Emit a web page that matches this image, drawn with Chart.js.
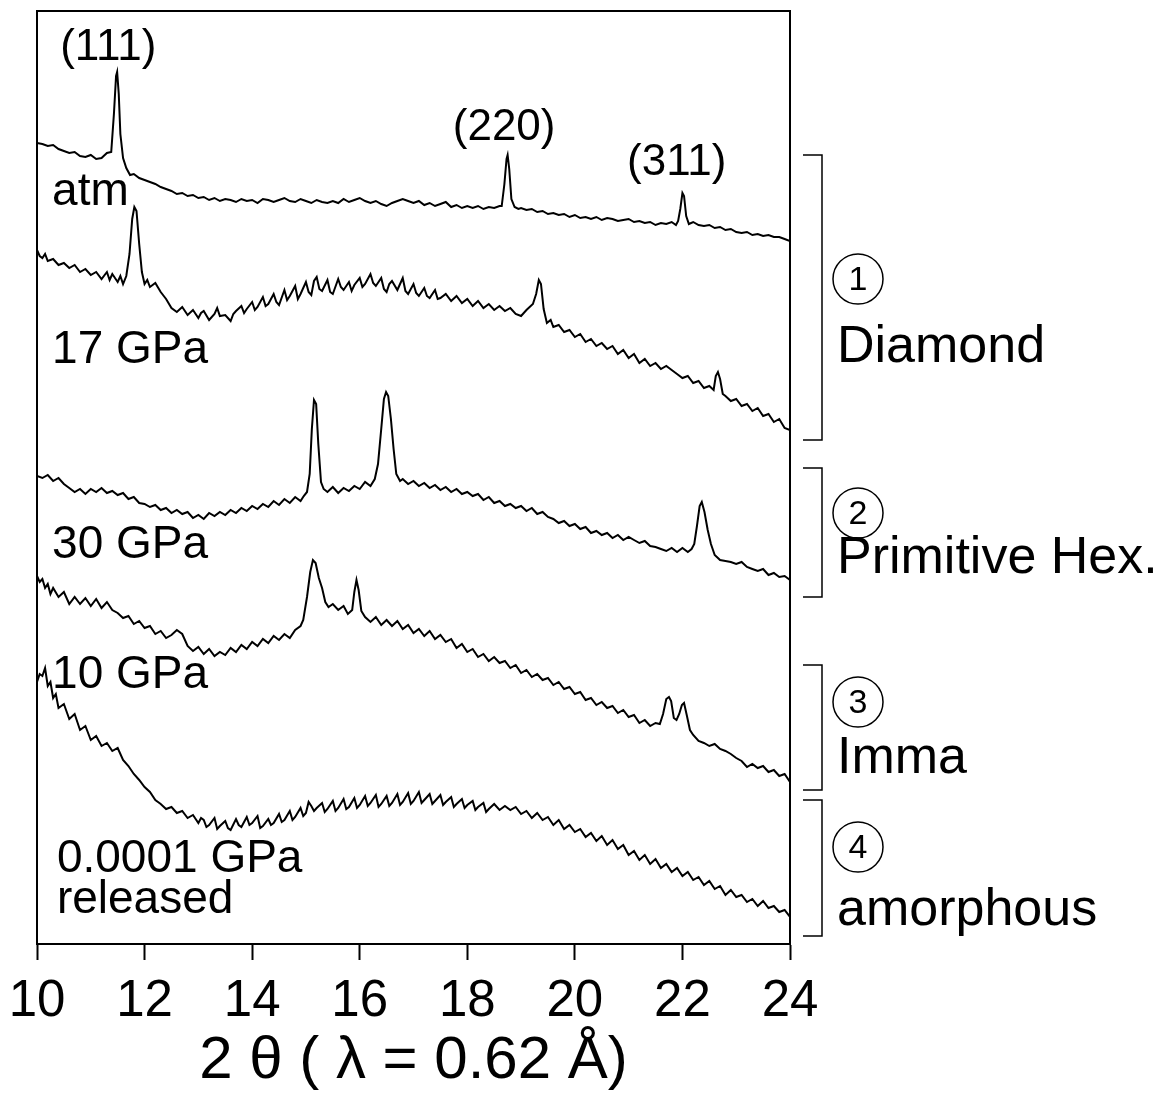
<!DOCTYPE html>
<html>
<head>
<meta charset="utf-8">
<script src="https://cdn.jsdelivr.net/npm/chart.js@4.4.1/dist/chart.umd.min.js"></script>
<style>
  body { margin: 0; background: #fff; }
</style>
</head>
<body>
<canvas id="chart" width="1168" height="1100"></canvas>
<script>
// 2-theta (deg) vs. intensity (arb. units, stacked offsets)
const atm = [
  [10.0,801],[10.1,800],[10.2,798],[10.3,799],[10.4,795],[10.5,793],[10.6,791],[10.7,792],[10.8,788],[10.9,787],
  [11.0,789],[11.1,785],[11.2,786],[11.3,791],[11.38,792],[11.43,830],[11.47,868],[11.49,872],[11.52,850],[11.55,810],
  [11.60,786],[11.66,776],[11.73,769],[11.8,770],[11.9,766],[12.0,764],[12.1,762],[12.2,760],[12.3,757],[12.4,755],
  [12.5,753],[12.6,750],[12.7,751],[12.8,748],[12.9,749],[13.0,746],[13.1,747],[13.2,744],[13.3,746],[13.4,743],
  [13.5,745],[13.6,744],[13.7,742],[13.8,745],[13.9,743],[14.0,744],[14.1,741],[14.2,745],[14.3,744],[14.4,742],
  [14.5,744],[14.6,746],[14.7,743],[14.8,742],[14.9,745],[15.0,743],[15.1,741],[15.2,744],[15.3,742],[15.4,741],
  [15.5,743],[15.6,741],[15.7,745],[15.8,742],[15.9,744],[16.0,746],[16.1,743],[16.2,741],[16.3,743],[16.4,740],
  [16.5,738],[16.6,741],[16.7,743],[16.8,745],[16.9,743],[17.0,741],[17.1,743],[17.2,739],[17.3,741],[17.4,738],
  [17.5,740],[17.6,742],[17.7,737],[17.8,739],[17.9,736],[18.0,738],[18.1,736],[18.2,738],[18.3,735],[18.4,737],
  [18.5,736],[18.6,738],[18.64,738],[18.69,760],[18.73,785],[18.75,789],[18.78,775],[18.82,745],[18.88,737],[18.95,735],
  [19.0,736],[19.1,734],[19.2,735],[19.3,732],[19.4,733],[19.5,730],[19.6,731],[19.7,729],[19.8,730],[19.9,727],
  [20.0,729],[20.1,726],[20.2,727],[20.3,725],[20.4,727],[20.5,724],[20.6,726],[20.7,725],[20.8,723],[20.9,724],
  [21.0,725],[21.1,722],[21.2,723],[21.3,721],[21.4,722],[21.5,719],[21.6,721],[21.7,720],[21.8,722],[21.88,719],
  [21.92,723],[21.96,735],[22.00,751],[22.03,748],[22.07,728],[22.12,720],[22.2,722],[22.3,719],[22.4,718],[22.5,719],
  [22.6,716],[22.7,717],[22.8,714],[22.9,715],[23.0,712],[23.1,711],[23.2,712],[23.3,709],[23.4,710],[23.5,708],
  [23.6,709],[23.7,707],[23.8,707],[23.9,705],[24.0,703]
];

const gpa17 = [
  [10.0,694],[10.05,688],[10.1,686],[10.15,690],[10.2,683],[10.3,685],[10.4,679],[10.5,681],[10.6,676],[10.7,679],
  [10.8,672],[10.9,675],[11.0,669],[11.1,672],[11.2,665],[11.3,672],[11.35,664],[11.4,670],[11.5,662],[11.55,668],
  [11.6,660],[11.66,668],[11.72,690],[11.77,725],[11.81,737],[11.85,733],[11.90,700],[11.95,672],[12.0,660],[12.05,664],
  [12.1,657],[12.2,661],[12.3,652],[12.4,645],[12.5,636],[12.6,632],[12.7,637],[12.8,629],[12.9,634],[13.0,626],
  [13.05,631],[13.1,633],[13.2,624],[13.3,630],[13.35,636],[13.4,628],[13.5,629],[13.6,623],[13.65,630],[13.7,633],
  [13.8,638],[13.85,631],[13.9,635],[14.0,642],[14.05,634],[14.1,637],[14.2,647],[14.25,638],[14.3,640],[14.4,650],
  [14.45,642],[14.5,639],[14.6,654],[14.65,644],[14.7,648],[14.8,658],[14.85,645],[14.9,650],[15.0,662],[15.05,652],
  [15.1,649],[15.15,663],[15.2,667],[15.25,655],[15.3,653],[15.4,664],[15.45,652],[15.5,650],[15.6,665],[15.65,657],
  [15.7,654],[15.8,662],[15.85,653],[15.9,659],[16.0,666],[16.05,657],[16.1,660],[16.2,670],[16.25,661],[16.3,658],
  [16.4,666],[16.45,655],[16.5,652],[16.55,660],[16.6,663],[16.7,654],[16.75,660],[16.8,666],[16.85,653],[16.9,650],
  [17.0,660],[17.05,651],[17.1,648],[17.2,656],[17.25,648],[17.3,646],[17.4,654],[17.45,645],[17.5,646],[17.6,650],
  [17.7,643],[17.8,648],[17.9,641],[18.0,645],[18.1,638],[18.2,643],[18.3,636],[18.4,640],[18.5,634],[18.6,638],
  [18.7,633],[18.8,636],[18.9,630],[19.0,628],[19.1,634],[19.22,640],[19.28,650],[19.33,664],[19.37,660],[19.42,635],
  [19.48,621],[19.55,624],[19.6,617],[19.7,619],[19.8,612],[19.9,614],[20.0,607],[20.1,610],[20.2,602],[20.3,605],
  [20.4,598],[20.5,601],[20.6,595],[20.7,598],[20.8,590],[20.9,594],[21.0,586],[21.1,590],[21.2,581],[21.3,585],
  [21.4,578],[21.5,581],[21.6,575],[21.7,578],[21.8,574],[21.9,570],[22.0,566],[22.1,568],[22.2,561],[22.3,563],
  [22.4,556],[22.5,558],[22.58,554],[22.62,568],[22.66,572],[22.70,565],[22.75,550],[22.8,548],[22.9,543],[23.0,545],
  [23.1,538],[23.2,540],[23.3,533],[23.4,536],[23.5,528],[23.6,530],[23.7,522],[23.8,525],[23.9,516],[24.0,514]
];

const gpa30 = [
  [10.0,468],[10.1,466],[10.2,469],[10.3,463],[10.4,466],[10.5,460],[10.6,456],[10.7,452],[10.8,455],[10.9,450],
  [11.0,455],[11.1,452],[11.2,456],[11.3,451],[11.4,453],[11.5,449],[11.6,451],[11.7,445],[11.8,447],[11.9,441],
  [12.0,440],[12.1,437],[12.2,439],[12.3,434],[12.4,436],[12.5,431],[12.6,434],[12.7,430],[12.8,432],[12.9,426],
  [13.0,429],[13.1,425],[13.2,431],[13.3,428],[13.4,432],[13.5,429],[13.6,434],[13.7,431],[13.8,436],[13.9,433],
  [14.0,438],[14.1,435],[14.2,440],[14.3,437],[14.4,443],[14.5,439],[14.6,445],[14.7,441],[14.8,447],[14.9,443],
  [14.96,448],[15.02,452],[15.07,470],[15.11,515],[15.15,544],[15.19,540],[15.23,500],[15.28,462],[15.33,455],[15.4,452],
  [15.5,457],[15.6,451],[15.7,456],[15.8,453],[15.9,458],[16.0,455],[16.1,462],[16.2,458],[16.28,465],[16.34,480],
  [16.40,515],[16.45,545],[16.49,552],[16.53,548],[16.58,525],[16.63,495],[16.68,470],[16.75,463],[16.8,465],[16.9,460],
  [17.0,463],[17.1,458],[17.2,461],[17.3,456],[17.4,459],[17.5,454],[17.6,457],[17.7,452],[17.8,455],[17.9,450],
  [18.0,452],[18.1,448],[18.2,450],[18.3,444],[18.4,447],[18.5,441],[18.6,443],[18.7,438],[18.8,440],[18.9,436],
  [19.0,438],[19.1,433],[19.2,436],[19.3,430],[19.4,432],[19.5,427],[19.6,425],[19.7,421],[19.8,423],[19.9,418],
  [20.0,420],[20.1,415],[20.2,417],[20.3,411],[20.4,413],[20.5,409],[20.6,411],[20.7,406],[20.8,409],[20.9,404],
  [21.0,407],[21.1,404],[21.2,401],[21.3,403],[21.4,398],[21.5,397],[21.6,395],[21.7,393],[21.8,396],[21.9,392],
  [22.0,396],[22.1,392],[22.17,395],[22.22,400],[22.27,418],[22.32,438],[22.36,442],[22.41,432],[22.47,414],[22.53,400],
  [22.6,389],[22.7,384],[22.8,383],[22.9,382],[23.0,380],[23.1,382],[23.2,377],[23.3,375],[23.4,373],[23.5,375],
  [23.6,369],[23.7,371],[23.8,367],[23.9,368],[24.0,364]
];

const gpa10 = [
  [10.0,368],[10.05,362],[10.1,365],[10.15,356],[10.2,360],[10.25,350],[10.3,356],[10.4,347],[10.5,352],[10.6,340],
  [10.7,347],[10.8,340],[10.9,346],[11.0,338],[11.1,345],[11.2,336],[11.3,342],[11.4,334],[11.5,331],[11.6,326],
  [11.7,328],[11.8,320],[11.9,323],[12.0,316],[12.1,318],[12.2,310],[12.3,313],[12.4,306],[12.5,309],[12.6,314],
  [12.7,310],[12.8,298],[12.9,293],[13.0,297],[13.1,290],[13.2,295],[13.3,288],[13.4,292],[13.5,289],[13.6,296],
  [13.7,292],[13.8,299],[13.9,295],[14.0,302],[14.1,298],[14.2,305],[14.3,301],[14.4,308],[14.5,304],[14.6,310],
  [14.7,306],[14.8,314],[14.9,318],[14.95,324],[15.02,347],[15.08,372],[15.13,384],[15.18,381],[15.24,366],[15.30,356],
  [15.36,342],[15.42,337],[15.5,340],[15.6,334],[15.7,338],[15.78,330],[15.86,334],[15.90,352],[15.94,364],[15.98,354],
  [16.03,333],[16.1,327],[16.2,322],[16.3,327],[16.4,319],[16.5,324],[16.6,318],[16.7,323],[16.8,315],[16.9,319],
  [17.0,311],[17.1,315],[17.2,308],[17.3,313],[17.4,305],[17.5,309],[17.6,302],[17.7,305],[17.8,296],[17.9,300],
  [18.0,292],[18.1,295],[18.2,287],[18.3,290],[18.4,283],[18.5,287],[18.6,281],[18.7,283],[18.8,276],[18.9,279],
  [19.0,271],[19.1,274],[19.2,267],[19.3,270],[19.4,264],[19.5,266],[19.6,259],[19.7,262],[19.8,255],[19.9,257],
  [20.0,250],[20.1,252],[20.2,244],[20.3,246],[20.4,239],[20.5,242],[20.6,236],[20.7,238],[20.8,231],[20.9,234],
  [21.0,227],[21.1,229],[21.2,221],[21.3,224],[21.4,218],[21.5,221],[21.58,220],[21.64,230],[21.70,245],[21.75,247],
  [21.79,243],[21.84,226],[21.89,224],[21.94,230],[21.99,239],[22.03,241],[22.08,229],[22.14,214],[22.2,209],[22.3,203],
  [22.4,201],[22.5,198],[22.6,200],[22.7,195],[22.8,193],[22.9,190],[23.0,186],[23.1,183],[23.2,177],[23.3,180],
  [23.4,176],[23.5,178],[23.6,172],[23.7,174],[23.8,168],[23.9,170],[24.0,162]
];

const released = [
  [10.0,262],[10.05,270],[10.1,268],[10.15,276],[10.2,258],[10.25,262],[10.3,246],[10.35,250],[10.4,236],[10.5,240],
  [10.6,225],[10.7,230],[10.8,214],[10.9,218],[11.0,204],[11.1,208],[11.2,198],[11.3,201],[11.4,193],[11.5,196],
  [11.6,184],[11.7,178],[11.8,170],[11.9,164],[12.0,157],[12.1,152],[12.2,144],[12.3,140],[12.4,135],[12.5,137],
  [12.6,131],[12.7,133],[12.8,126],[12.9,129],[13.0,121],[13.05,126],[13.1,124],[13.15,117],[13.2,119],[13.3,126],
  [13.35,115],[13.4,118],[13.5,123],[13.55,116],[13.6,114],[13.7,125],[13.75,119],[13.8,117],[13.9,127],[13.95,119],
  [14.0,121],[14.1,128],[14.15,116],[14.2,118],[14.3,125],[14.35,119],[14.4,121],[14.5,130],[14.55,122],[14.6,124],
  [14.7,133],[14.75,124],[14.8,127],[14.9,136],[14.95,128],[15.0,131],[15.05,142],[15.1,138],[15.15,133],[15.2,136],
  [15.3,141],[15.35,132],[15.4,135],[15.5,143],[15.55,133],[15.6,136],[15.7,145],[15.75,135],[15.8,137],[15.9,146],
  [15.95,136],[16.0,139],[16.1,148],[16.15,138],[16.2,141],[16.3,149],[16.35,137],[16.4,140],[16.5,148],[16.55,138],
  [16.6,141],[16.7,150],[16.75,139],[16.8,142],[16.9,151],[16.95,140],[17.0,143],[17.1,152],[17.15,141],[17.2,144],
  [17.3,150],[17.35,140],[17.4,143],[17.5,149],[17.55,139],[17.6,142],[17.7,147],[17.75,137],[17.8,140],[17.9,145],
  [17.95,136],[18.0,139],[18.1,143],[18.15,134],[18.2,137],[18.3,141],[18.35,132],[18.4,135],[18.5,140],[18.6,134],
  [18.7,138],[18.8,134],[18.9,137],[19.0,130],[19.1,133],[19.2,126],[19.3,131],[19.4,124],[19.5,127],[19.6,119],
  [19.7,124],[19.8,115],[19.9,119],[20.0,112],[20.1,115],[20.2,107],[20.3,111],[20.4,103],[20.5,108],[20.6,99],
  [20.7,104],[20.8,95],[20.9,99],[21.0,89],[21.1,93],[21.2,84],[21.3,89],[21.4,80],[21.5,85],[21.6,76],
  [21.7,80],[21.8,72],[21.9,76],[22.0,68],[22.1,72],[22.2,64],[22.3,67],[22.4,59],[22.5,63],[22.6,55],
  [22.7,58],[22.8,49],[22.9,54],[23.0,47],[23.1,49],[23.2,42],[23.3,45],[23.4,38],[23.5,43],[23.6,36],
  [23.7,38],[23.8,32],[23.9,34],[24.0,27]
];

const seriesNames = ['atm', '17 GPa', '30 GPa', '10 GPa', '0.0001 GPa released'];
const xTicks = [10, 12, 14, 16, 18, 20, 22, 24];

// text inside the plot: [text, 2theta of left edge, intensity of baseline]
const curveLabels = [
  ['atm', 10.28, 739],
  ['17 GPa', 10.28, 581],
  ['30 GPa', 10.28, 386],
  ['10 GPa', 10.28, 256],
  ['0.0001 GPa', 10.37, 72],
  ['released', 10.37, 31]
];
const peakLabels = [
  ['(111)', 10.43, 884],
  ['(220)', 17.73, 804],
  ['(311)', 20.97, 769]
];
// phase groups on the right: number, name, bracket top/bottom, circle centre, text baseline
const phases = [
  ['1', 'Diamond', 789, 504, 665, 582],
  ['2', 'Primitive Hex.', 476, 347, 431, 371],
  ['3', 'Imma', 279, 154, 242, 171],
  ['4', 'amorphous', 144, 8, 97, 19]
];

const FONT = 'Liberation Sans, Arial, Helvetica, sans-serif';

const decorations = {
  id: 'decorations',
  afterDraw(chart) {
    const ctx = chart.ctx;
    const area = chart.chartArea;
    const xs = chart.scales.x, ys = chart.scales.y;
    ctx.save();
    ctx.strokeStyle = '#000';
    ctx.fillStyle = '#000';
    ctx.lineWidth = 2;
    // frame: left, top, right
    ctx.beginPath();
    ctx.moveTo(area.left, area.bottom);
    ctx.lineTo(area.left, area.top);
    ctx.lineTo(area.right, area.top);
    ctx.lineTo(area.right, area.bottom);
    ctx.stroke();

    ctx.textBaseline = 'alphabetic';
    ctx.textAlign = 'left';
    ctx.font = '46px ' + FONT;
    curveLabels.forEach(([t, x, y]) => ctx.fillText(t, xs.getPixelForValue(x), ys.getPixelForValue(y)));
    ctx.font = '44px ' + FONT;
    peakLabels.forEach(([t, x, y]) => ctx.fillText(t, xs.getPixelForValue(x), ys.getPixelForValue(y)));

    const bx0 = area.right + 13, bx1 = area.right + 32, cx = area.right + 68, tx = area.right + 47;
    ctx.lineWidth = 1.5;
    phases.forEach(([num, name, top, bottom, cy, base]) => {
      const yt = ys.getPixelForValue(top), yb = ys.getPixelForValue(bottom);
      ctx.beginPath();
      ctx.moveTo(bx0, yt); ctx.lineTo(bx1, yt); ctx.lineTo(bx1, yb); ctx.lineTo(bx0, yb);
      ctx.stroke();
      const yc = ys.getPixelForValue(cy);
      ctx.beginPath();
      ctx.arc(cx, yc, 25, 0, Math.PI * 2);
      ctx.stroke();
      ctx.font = '34px ' + FONT;
      ctx.textAlign = 'center';
      ctx.textBaseline = 'middle';
      ctx.fillText(num, cx, yc + 2);
      ctx.font = '52px ' + FONT;
      ctx.textAlign = 'left';
      ctx.textBaseline = 'alphabetic';
      ctx.fillText(name, tx, ys.getPixelForValue(base));
    });
    ctx.restore();
  }
};

const curves = [atm, gpa17, gpa30, gpa10, released];

new Chart(document.getElementById('chart').getContext('2d'), {
  type: 'line',
  data: {
    datasets: curves.map((d, i) => ({
      label: seriesNames[i],
      data: d,
      borderColor: '#000',
      borderWidth: 2,
      pointRadius: 0,
      tension: 0,
      fill: false
    }))
  },
  options: {
    responsive: false,
    animation: false,
    layout: { padding: { left: 37, right: 378, top: 11, bottom: 0 } },
    plugins: { legend: { display: false }, tooltip: { enabled: false } },
    scales: {
      x: {
        type: 'linear',
        min: 10,
        max: 24,
        afterBuildTicks: s => { s.ticks = xTicks.map(v => ({ value: v })); },
        afterFit: s => { s.height = 156; s.paddingLeft = 0; s.paddingRight = 0; },
        ticks: { padding: 11, color: '#000', font: { family: FONT, size: 51 } },
        grid: { display: true, drawOnChartArea: false, drawTicks: true, tickLength: 16, tickColor: '#000', tickWidth: 2 },
        border: { display: true, color: '#000', width: 2 },
        title: {
          display: true,
          text: '2 θ ( λ = 0.62 Å)',
          color: '#000',
          font: { family: FONT, size: 60, lineHeight: 1 },
          padding: { top: 0, bottom: 9 }
        }
      },
      y: { display: false, min: 0, max: 933 }
    }
  },
  plugins: [decorations]
});
</script>
</body>
</html>
